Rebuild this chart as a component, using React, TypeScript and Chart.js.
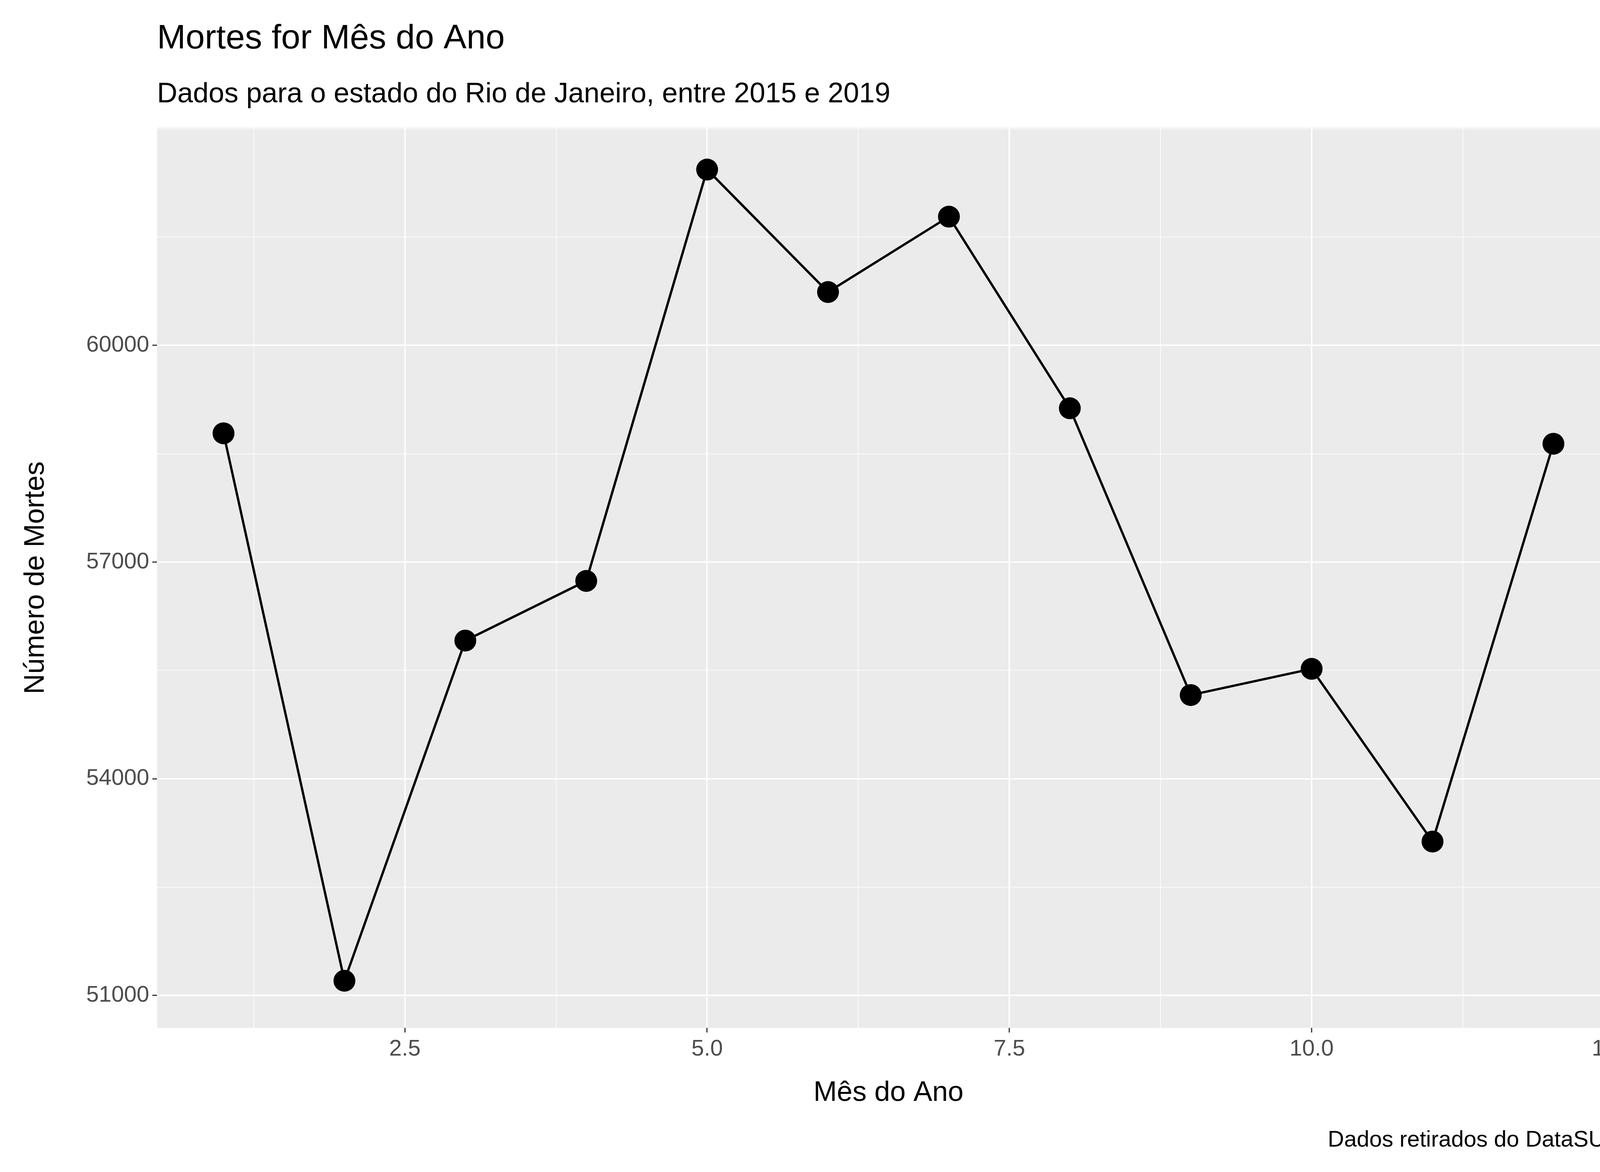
import React, { useEffect, useRef } from "react";
import { Chart, registerables } from "chart.js";
Chart.register(...registerables);

const months = [1, 2, 3, 4, 5, 6, 7, 8, 9, 10, 11, 12];
const deaths = [58783, 51203, 55913, 56739, 62435, 60739, 61783, 59130, 55159, 55522, 53130, 58638];
const xTicks = [1.25, 2.5, 3.75, 5, 6.25, 7.5, 8.75, 10, 11.25, 12.5];
const xLabels: Record<string, string> = { "2.5": "2.5", "5": "5.0", "7.5": "7.5", "10": "10.0", "12.5": "12.5" };
const yTicks = [51000, 52500, 54000, 55500, 57000, 58500, 60000, 61500, 63000];
const yMajor = [51000, 54000, 57000, 60000];
const title = "Mortes for Mês do Ano";
const subtitle = "Dados para o estado do Rio de Janeiro, entre 2015 e 2019";
const xTitle = "Mês do Ano";
const yTitle = "Número de Mortes";
const caption = "Dados retirados do DataSUS";

const FONT = "'Liberation Sans', Arial, sans-serif";

export default function App() {
  const ref = useRef<HTMLCanvasElement>(null);
  useEffect(() => {
    document.body.style.margin = "0";
    document.body.style.overflow = "hidden";
    document.documentElement.style.overflow = "hidden";
    const textPlugin = {
      id: "texts",
      beforeDraw(c: any) {
        const { ctx, chartArea: a } = c;
        ctx.save();
        ctx.fillStyle = "#ebebeb";
        ctx.fillRect(a.left, a.top, a.right - a.left, a.bottom - a.top);
        ctx.restore();
      },
      afterDraw(c: any) {
        const { ctx, chartArea: a } = c;
        ctx.save();
        ctx.fillStyle = "#000";
        ctx.textBaseline = "alphabetic";
        ctx.textAlign = "left";
        ctx.font = `88px ${FONT}`;
        ctx.fillText(title, 402, 124);
        ctx.font = `72px ${FONT}`;
        ctx.fillText(subtitle, 402, 262);
        ctx.textAlign = "center";
        ctx.fillText(xTitle, (a.left + a.right) / 2, 2818);
        ctx.save();
        ctx.translate(112, (a.top + a.bottom) / 2);
        ctx.rotate(-Math.PI / 2);
        ctx.fillText(yTitle, 0, 0);
        ctx.restore();
        ctx.textAlign = "right";
        ctx.font = `58px ${FONT}`;
        ctx.fillText(caption, 4147, 2935);
        ctx.restore();
      },
    };
    const chart = new Chart(ref.current!, {
      type: "line",
      data: {
        datasets: [
          {
            data: months.map((m, i) => ({ x: m, y: deaths[i] })),
            borderColor: "#000",
            backgroundColor: "#000",
            borderWidth: 6,
            pointRadius: 28,
            pointBackgroundColor: "#000",
            pointBorderWidth: 0,
            tension: 0,
          },
        ],
      },
      options: {
        animation: false,
        responsive: false,
        devicePixelRatio: 1,
        layout: { padding: { top: 327, right: 53, left: 0, bottom: 0 } },
        plugins: { legend: { display: false }, tooltip: { enabled: false } },
        scales: {
          x: {
            type: "linear",
            min: 0.45,
            max: 12.55,
            afterBuildTicks: (s: any) => { s.ticks = xTicks.map((v) => ({ value: v })); },
            afterFit: (s: any) => { s.height = 369; },
            border: { display: false },
            grid: {
              color: "#fff",
              lineWidth: (ctx: any) => (xLabels[String(ctx.tick?.value)] ? 3.5 : 1.6),
              tickColor: (ctx: any) => (xLabels[String(ctx.tick?.value)] ? "#333" : "rgba(0,0,0,0)"),
              tickLength: 12,
              tickWidth: 3,
            },
            ticks: {
              autoSkip: false,
              maxRotation: 0,
              padding: 8,
              color: "#4d4d4d",
              font: { family: FONT, size: 58 },
              callback: (v: any) => xLabels[String(v)] ?? "",
            },
          },
          y: {
            type: "linear",
            min: 50551,
            max: 63014,
            afterBuildTicks: (s: any) => { s.ticks = yTicks.map((v) => ({ value: v })); },
            afterFit: (s: any) => { s.width = 402; },
            border: { display: false },
            grid: {
              color: "#fff",
              lineWidth: (ctx: any) => (yMajor.includes(ctx.tick?.value) ? 3.5 : 1.6),
              tickColor: (ctx: any) => (yMajor.includes(ctx.tick?.value) ? "#333" : "rgba(0,0,0,0)"),
              tickLength: 12,
              tickWidth: 3,
            },
            ticks: {
              autoSkip: false,
              padding: 8,
              color: "#4d4d4d",
              font: { family: FONT, size: 58 },
              callback: (v: any) => (yMajor.includes(v) ? String(v) : ""),
            },
          },
        },
      },
      plugins: [textPlugin],
    } as any);
    return () => chart.destroy();
  }, []);
  return (
    <canvas
      ref={ref}
      width={4200}
      height={3000}
      style={{ display: "block", position: "absolute", left: 0, top: 0, width: "4200px", height: "3000px" }}
    />
  );
}
